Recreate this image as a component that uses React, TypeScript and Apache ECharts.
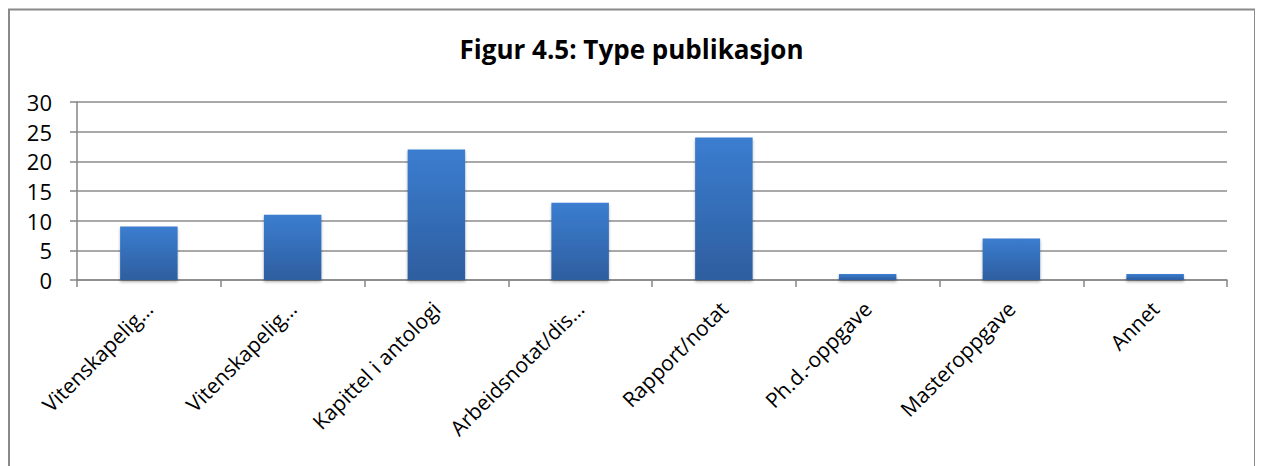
import React, { useEffect, useRef } from "react";
import * as echarts from "echarts";

const categories = [
  "Vitenskapelig…",
  "Vitenskapelig…",
  "Kapittel i antologi",
  "Arbeidsnotat/dis…",
  "Rapport/notat",
  "Ph.d.-oppgave",
  "Masteroppgave",
  "Annet",
];
const values = [9, 11, 22, 13, 24, 1, 7, 1];
const yTicks = { min: 0, max: 30, interval: 5 };
const titleText = "Figur 4.5: Type publikasjon";

export default function App() {
  const ref = useRef<HTMLDivElement>(null);
  useEffect(() => {
    if (!ref.current) return;
    const chart = echarts.init(ref.current, undefined, { renderer: "svg" });
    const font = "'Open Sans', 'Noto Sans', sans-serif";
    chart.setOption({
      animation: false,
      backgroundColor: "#fff",
      title: {
        text: titleText,
        left: "center",
        top: 23,
        textStyle: { fontFamily: font, fontSize: 26, fontWeight: "bold", color: "#000" },
      },
      graphic: [
        {
          type: "rect",
          shape: { x: 1, y: 1.5, width: 1246, height: 600 },
          style: { fill: "none", stroke: "#8a8a8a", lineWidth: 2 },
          silent: true,
        },
      ],
      grid: { left: 69, top: 94, right: 28, bottom: 186 },
      xAxis: {
        type: "category",
        data: categories,
        axisLine: { lineStyle: { color: "#868686", width: 1.5 } },
        axisTick: { show: true, length: 7, interval: 0, lineStyle: { color: "#868686", width: 1.5 } },
        axisLabel: {
          interval: 0,
          rotate: 45,
          margin: 25,
          fontFamily: font,
          fontSize: 21,
          color: "#000",
        },
      },
      yAxis: {
        type: "value",
        min: yTicks.min,
        max: yTicks.max,
        interval: yTicks.interval,
        axisLine: { show: true, lineStyle: { color: "#868686", width: 1.5 } },
        axisTick: { show: true, length: 7, lineStyle: { color: "#868686", width: 1.5 } },
        splitLine: { lineStyle: { color: "#8c8c8c", width: 1.5 } },
        axisLabel: { margin: 25, fontFamily: font, fontSize: 22, color: "#000" },
      },
      series: [
        {
          type: "bar",
          data: values,
          barWidth: "40%",
          itemStyle: {
            color: new echarts.graphic.LinearGradient(0, 0, 0, 1, [
              { offset: 0, color: "#3b7dd0" },
              { offset: 1, color: "#2e5e9f" },
            ]),
            shadowColor: "rgba(0,0,0,0.3)",
            shadowBlur: 3,
            shadowOffsetY: 2,
          },
        },
      ],
    });
    return () => chart.dispose();
  }, []);
  return <div ref={ref} style={{ width: 1247, height: 458 }} />;
}
